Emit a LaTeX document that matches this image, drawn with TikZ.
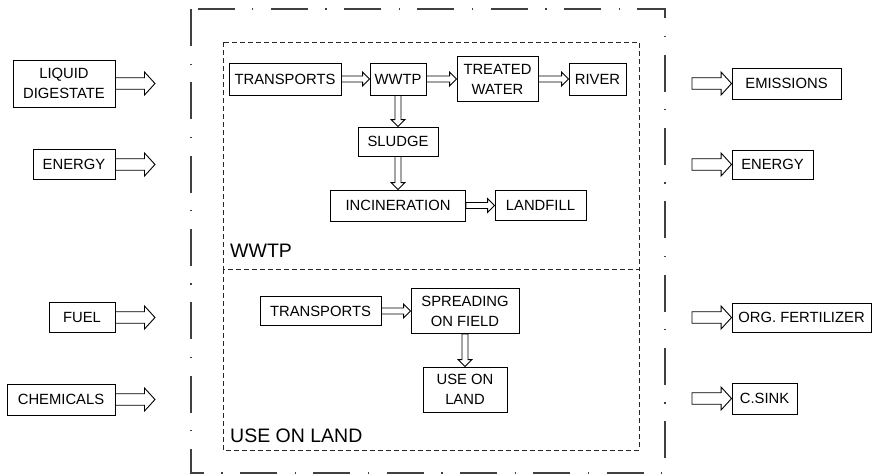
\documentclass[tikz,border=0pt]{standalone}
\usepackage{fontspec}
\setmainfont{Liberation Sans}
\usetikzlibrary{calc}

\tikzset{
  box/.style={draw, line width=0.9pt, align=center, inner sep=0pt,
    font=\fontsize{14.8}{20}\selectfont},
  hollow/.style n args={3}{line width=0.9pt, line join=miter, to path={
    let \p1=($(\tikztotarget)!#3!(\tikztostart)$) in
    ($(\tikztostart)!#1!-90:(\tikztotarget)$) -- ($(\p1)!#1!-90:(\tikztotarget)$)
    -- ($(\p1)!#2!-90:(\tikztotarget)$) -- (\tikztotarget)
    -- ($(\p1)!#2!90:(\tikztotarget)$) -- ($(\p1)!#1!90:(\tikztotarget)$)
    -- ($(\tikztostart)!#1!90:(\tikztotarget)$) -- cycle}},
  flow/.style={hollow={3pt}{7pt}{7pt}},
  bigflow/.style={hollow={5.75pt}{11.5pt}{10.5pt}},
  region/.style={font=\fontsize{19.5}{22}\selectfont, inner sep=0pt, anchor=base west}
}

\begin{document}
\begin{tikzpicture}[x=1pt,y=-1pt]
  \useasboundingbox (0,0) rectangle (872,475);

  % system boundary
  \draw[black!75, line width=1.3pt, dash pattern=on 37pt off 17.5pt on 1.3pt off 17.5pt]
    (191,9) rectangle (665,473);
  \draw[black!85, line width=1pt, dash pattern=on 5pt off 3pt] (223,42) rectangle (639,269);
  \draw[black!85, line width=1pt, dash pattern=on 5pt off 3pt] (223,269) rectangle (639,450);
  \node[region] (lwwtp) at (230,257) {WWTP};
  \node[region] (lland) at (230,442) {USE ON LAND};

  % WWTP
  \node[box, minimum width=112pt, minimum height=32pt] (tra) at (285,79) {TRANSPORTS};
  \node[box, minimum width=56pt, minimum height=32pt] (wwtp) at (398,79) {WWTP};
  \node[box, minimum width=81pt, minimum height=45pt] (water) at (497.5,79) {TREATED\\WATER};
  \node[box, minimum width=57pt, minimum height=32pt] (river) at (597.5,79) {RIVER};
  \node[box, minimum width=80pt, minimum height=29pt] (sludge) at (398,141.5) {SLUDGE};
  \node[box, minimum width=135pt, minimum height=31pt] (incin) at (398,205.5) {INCINERATION};
  \node[box, minimum width=91pt, minimum height=30pt] (landfill) at (540.5,205.5) {LANDFILL};

  \draw[flow] (tra.east) to (wwtp.west);
  \draw[flow] (wwtp.east) to (water.west);
  \draw[flow] (water.east) to (river.west);
  \draw[flow] (wwtp.south) to (sludge.north);
  \draw[flow] (sludge.south) to (incin.north);
  \draw[flow] (incin.east) to (landfill.west);

  % use on land
  \node[box, minimum width=121pt, minimum height=29pt] (trb) at (320.5,311) {TRANSPORTS};
  \node[box, minimum width=108pt, minimum height=45pt] (spread) at (465,311) {SPREADING\\ON FIELD};
  \node[box, minimum width=84pt, minimum height=45pt] (use) at (465,389.5) {USE ON\\LAND};

  \draw[flow] (trb.east) to (spread.west);
  \draw[flow] (spread.south) to (use.north);

  % inputs
  \node[box, minimum width=102pt, minimum height=47pt] (liq) at (64,83.5) {LIQUID\\DIGESTATE};
  \node[box, minimum width=82pt, minimum height=30pt] (enin) at (74,164.5) {ENERGY};
  \node[box, minimum width=66pt, minimum height=30pt] (fuel) at (82,317.5) {FUEL};
  \node[box, minimum width=108pt, minimum height=31pt] (chem) at (61,399.5) {CHEMICALS};
  \coordinate (liqin) at (155,83.5);
  \coordinate (enin in) at (155,164.5);
  \coordinate (fuelin) at (155,317.5);
  \coordinate (chemin) at (155,399.5);
  \draw[bigflow] (liq.east) to (liqin);
  \draw[bigflow] (enin.east) to (enin in);
  \draw[bigflow] (fuel.east) to (fuelin);
  \draw[bigflow] (chem.east) to (chemin);

  % outputs
  \node[box, minimum width=109pt, minimum height=31pt] (emis) at (786.5,83.5) {EMISSIONS};
  \node[box, minimum width=81pt, minimum height=29pt] (enout) at (772.5,164.5) {ENERGY};
  \node[box, minimum width=139pt, minimum height=29pt] (fert) at (801.5,317.5) {ORG. FERTILIZER};
  \node[box, minimum width=65pt, minimum height=31pt] (sink) at (764.5,398.5) {C.SINK};
  \coordinate (emisout) at (692,83.5);
  \coordinate (enout out) at (692,164.5);
  \coordinate (fertout) at (692,317.5);
  \coordinate (sinkout) at (692,398.5);
  \draw[bigflow] (emisout) to (emis.west);
  \draw[bigflow] (enout out) to (enout.west);
  \draw[bigflow] (fertout) to (fert.west);
  \draw[bigflow] (sinkout) to (sink.west);
\end{tikzpicture}
\end{document}
